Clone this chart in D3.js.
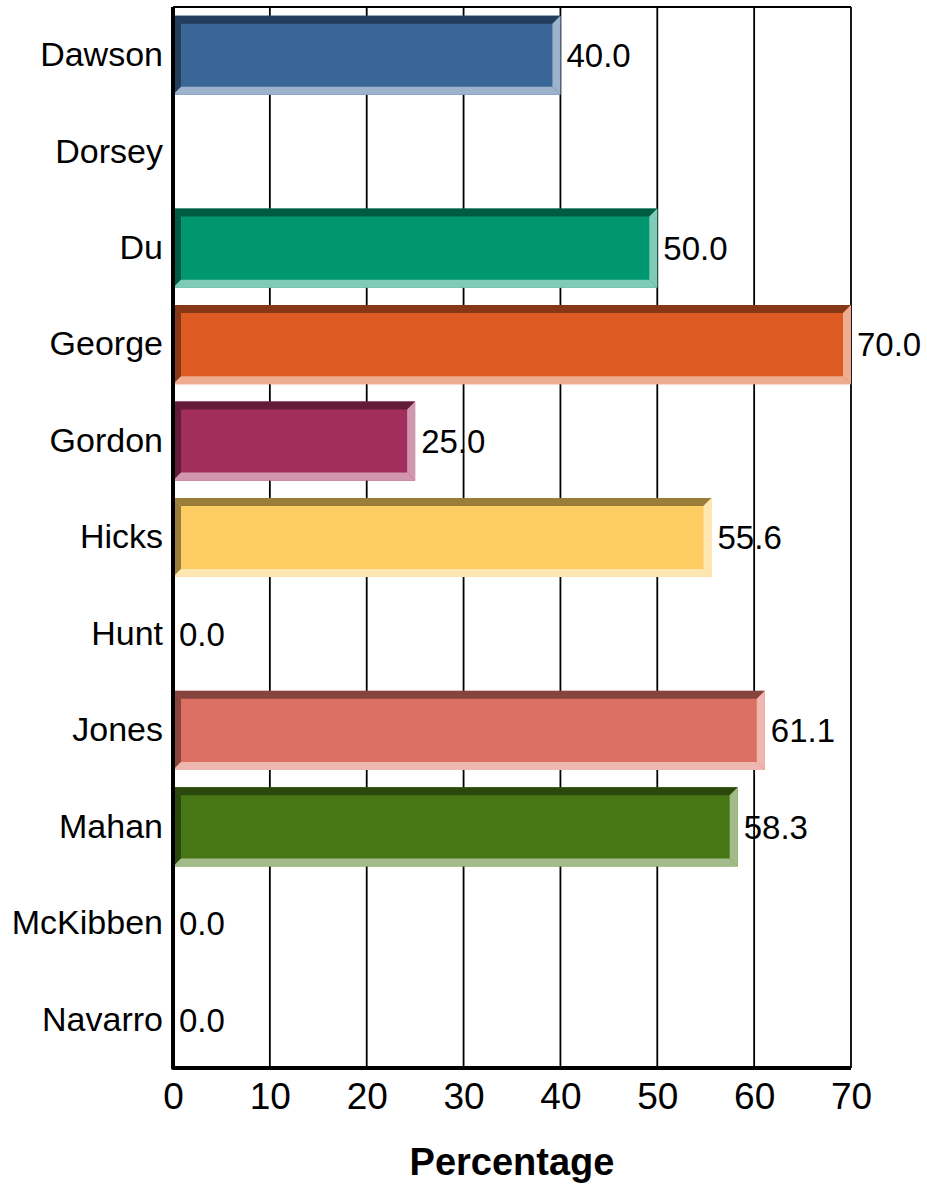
<!DOCTYPE html>
<html>
<head>
<meta charset="utf-8">
<script src="https://cdn.jsdelivr.net/npm/d3@7"></script>
<style>
  body { margin: 0; background: #fff; }
  text { font-family: "Liberation Sans", Arial, sans-serif; }
</style>
</head>
<body>
<div id="chart"></div>
<script>
const names = ["Dawson", "Dorsey", "Du", "George", "Gordon", "Hicks", "Hunt", "Jones", "Mahan", "McKibben", "Navarro"];
const values = [40.0, null, 50.0, 70.0, 25.0, 55.6, 0.0, 61.1, 58.3, 0.0, 0.0];
const colors = ["#3A6597", "#7F7F7F", "#00966E", "#DD5A22", "#A22E5E", "#FDCC62", "#7F7F7F", "#DC7063", "#467714", "#7F7F7F", "#7F7F7F"];
const xTicks = [0, 10, 20, 30, 40, 50, 60, 70];

const width = 927;
const height = 1188;
const margin = {top: 7, right: 76, bottom: 120, left: 173};

const svg = d3.select("#chart").append("svg")
    .attr("width", width)
    .attr("height", height);

const x = d3.scaleLinear()
  .domain([0, 70])
  .range([margin.left, width - margin.right]);

const y = d3.scaleBand()
  .domain(names)
  .range([margin.top, height - margin.bottom])
  .paddingInner(0.18)
  .paddingOuter(0.09);

// gridlines
svg.append("g")
  .selectAll("line")
  .data(xTicks.slice(1))
  .enter().append("line")
  .attr("x1", d => x(d)).attr("x2", d => x(d))
  .attr("y1", margin.top).attr("y2", height - margin.bottom)
  .attr("stroke", "#000")
  .attr("stroke-width", 1.8);

// top border
svg.append("line")
  .attr("x1", margin.left).attr("x2", x(70))
  .attr("y1", margin.top).attr("y2", margin.top)
  .attr("stroke", "#000")
  .attr("stroke-width", 1.8);

const rows = names.map((n, i) => ({name: n, value: values[i], color: colors[i]}));
const b = 8;

const bars = svg.append("g")
  .selectAll("g")
  .data(rows.filter(d => d.value))
  .enter().append("g");

function pts(arr) { return arr.map(p => p.join(",")).join(" "); }

bars.each(function(d) {
  const g = d3.select(this);
  const x0 = x(0), x1 = x(d.value);
  const y0 = y(d.name), y1 = y0 + y.bandwidth();
  const dark = d3.color(d.color).darker(1.4).formatHex();
  const light = d3.interpolateRgb(d.color, "#fff")(0.5);
  g.append("rect")
    .attr("x", x0).attr("y", y0)
    .attr("width", x1 - x0).attr("height", y1 - y0)
    .attr("fill", d.color);
  g.append("polygon")
    .attr("points", pts([[x0, y0], [x1, y0], [x1 - b, y0 + b], [x0 + b, y0 + b]]))
    .attr("fill", dark);
  g.append("polygon")
    .attr("points", pts([[x0, y0], [x0 + b, y0 + b], [x0 + b, y1 - b], [x0, y1]]))
    .attr("fill", dark);
  g.append("polygon")
    .attr("points", pts([[x0, y1], [x0 + b, y1 - b], [x1 - b, y1 - b], [x1, y1]]))
    .attr("fill", light);
  g.append("polygon")
    .attr("points", pts([[x1, y0], [x1, y1], [x1 - b, y1 - b], [x1 - b, y0 + b]]))
    .attr("fill", light);
});

// value labels
svg.append("g")
  .selectAll("text")
  .data(rows.filter(d => d.value !== null))
  .enter().append("text")
  .attr("x", d => x(d.value) + 6)
  .attr("y", d => y(d.name) + y.bandwidth() / 2)
  .attr("dy", "0.36em")
  .style("font-size", "33px")
  .text(d => d.value.toFixed(1));

// axes
const xAxis = svg.append("g")
  .attr("transform", `translate(0,${height - margin.bottom})`)
  .call(d3.axisBottom(x).tickValues(xTicks).tickSize(0).tickPadding(15));
xAxis.select(".domain").remove();
xAxis.selectAll("text")
  .style("font-family", "Liberation Sans, Arial, sans-serif")
  .style("font-size", "37px")
  .attr("fill", "#000");

const yAxis = svg.append("g")
  .attr("transform", `translate(${margin.left},0)`)
  .call(d3.axisLeft(y).tickSize(0).tickPadding(10));
yAxis.select(".domain").remove();
yAxis.selectAll("text")
  .style("font-family", "Liberation Sans, Arial, sans-serif")
  .style("font-size", "34px")
  .attr("fill", "#000");

// thick axis lines
svg.append("path")
  .attr("d", `M${margin.left},${margin.top}V${height - margin.bottom}H${x(70)}`)
  .attr("fill", "none")
  .attr("stroke", "#000")
  .attr("stroke-width", 4)
  .attr("stroke-linejoin", "round");

svg.append("text")
  .attr("x", (x(0) + x(70)) / 2)
  .attr("y", 1175)
  .attr("text-anchor", "middle")
  .style("font-size", "38px")
  .style("font-weight", "bold")
  .text("Percentage");
</script>
</body>
</html>
